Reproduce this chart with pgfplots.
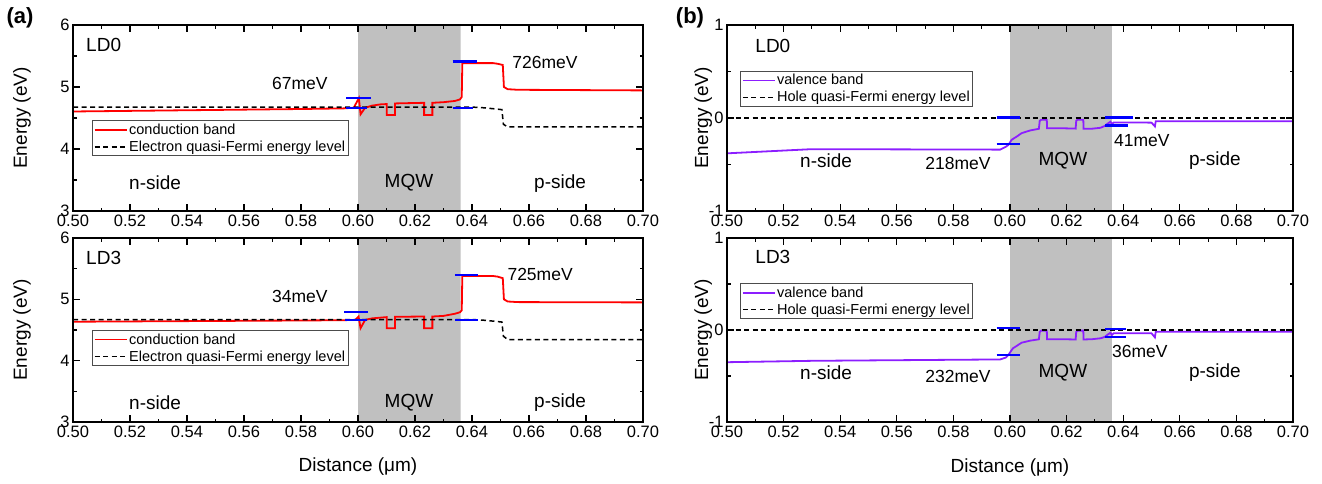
\documentclass[border=0pt]{standalone}
\usepackage{pgfplots}
\pgfplotsset{compat=1.18}
\usepackage{fontspec}
\setmainfont{Liberation Sans}
\definecolor{cband}{RGB}{255,0,0}
\definecolor{vband}{RGB}{140,30,255}
\definecolor{mqw}{RGB}{192,192,192}
\definecolor{mkblue}{RGB}{0,0,255}
\pgfplotsset{
 base/.style={
  scale only axis,
  axis on top,
  xmin=0.5, xmax=0.7,
  xtick={0.50,0.52,0.54,0.56,0.58,0.60,0.62,0.64,0.66,0.68,0.70},
  minor x tick num=1,
  minor y tick num=1,
  tick align=inside,
  major tick length=7pt, minor tick length=3.5pt,
  tick style={black, line width=1.1pt},
  axis line style={line width=1.6pt},
  ticklabel style={font=\fontsize{16.5}{18}\selectfont},
  /pgf/number format/assume math mode=true,
  x tick label style={/pgf/number format/.cd, fixed, fixed zerofill, precision=2, /tikz/.cd},
  label style={font=\fontsize{19}{22}\selectfont},
  ylabel={Energy (eV)},
  legend cell align=left,
  legend image code/.code={\draw[##1] (0pt,0pt) -- (32pt,0pt);},
 },
 lft/.style={base, width=570pt, ymin=3, ymax=6, ytick={3,4,5,6},
  ylabel style={at={(axis description cs:-0.0895,0.5)}, anchor=center},
  legend style={at={(axis description cs:0.0333,#1)}, anchor=south west, draw=black!70, line width=0.7pt, fill=white,
    font=\fontsize{14.5}{16}\selectfont, inner xsep=1.5pt, inner ysep=1.5pt, row sep=2pt, nodes={inner sep=1.5pt}}},
 rgt/.style={base, width=566pt, ymin=-1, ymax=1, ytick={-1,0,1},
  ylabel style={at={(axis description cs:-0.042,0.5)}, anchor=center},
  legend style={at={(axis description cs:0.023,#1)}, anchor=south west, draw=black!70, line width=0.7pt, fill=white,
    font=\fontsize{14.5}{16}\selectfont, inner xsep=1.5pt, inner ysep=1.5pt, row sep=2pt, nodes={inner sep=1.5pt}}},
 cb/.style={color=cband, line width=1.8pt},
 vb/.style={color=vband, line width=1.8pt},
 qf/.style={black, line width=1.5pt, dash pattern=on 5pt off 3.5pt},
 bm/.style={draw=mkblue, color=mkblue, line width=2.2pt, forget plot},
}
\newcommand{\bigf}{\fontsize{19}{22}\selectfont}
\newcommand{\midf}{\fontsize{17.5}{20}\selectfont}
\begin{document}
\begin{tikzpicture}
\path[use as bounding box] (0pt,0pt) rectangle (1322pt,483pt);
% ---------------- (a) top: LD0
\begin{axis}[lft=0.295, at={(73pt,272pt)}, anchor=south west, height=186pt]
\addplot[fill=mqw, draw=none, forget plot] coordinates {(0.600,3) (0.636,3) (0.636,6) (0.600,6)} \closedcycle;
\addplot[cb] coordinates {(0.500,4.605) (0.520,4.615) (0.540,4.625) (0.560,4.635) (0.580,4.645) (0.5950,4.655) (0.5985,4.665) (0.6003,4.82) (0.6009,4.56) (0.6025,4.665) (0.6050,4.70) (0.6080,4.72) (0.6101,4.725) (0.6101,4.55) (0.6130,4.55) (0.6130,4.735) (0.6180,4.74) (0.6232,4.745) (0.6232,4.55) (0.6261,4.55) (0.6261,4.745) (0.6300,4.755) (0.6340,4.775) (0.6358,4.80) (0.6364,4.84) (0.6366,5.385) (0.6474,5.385) (0.6490,5.375) (0.6508,5.355) (0.6512,5.00) (0.6525,4.965) (0.6560,4.955) (0.7000,4.945)};
\addlegendentry{conduction band}
\addplot[qf] coordinates {(0.500,4.675) (0.6404,4.675) (0.6440,4.665) (0.6474,4.650) (0.6505,4.635) (0.6510,4.40) (0.6525,4.355) (0.7000,4.355)};
\addlegendentry{Electron quasi-Fermi energy level}
\addplot[bm] coordinates {(0.5958,4.82) (0.6044,4.82)};
\addplot[bm] coordinates {(0.5958,4.665) (0.6030,4.665)};
\addplot[bm] coordinates {(0.6332,5.41) (0.6419,5.41)};
\addplot[bm] coordinates {(0.6332,4.665) (0.6404,4.665)};
\node[font=\bigf, anchor=west] at (axis cs:0.5034,5.68) {LD0};
\node[font=\midf] at (axis cs:0.5796,5.05) {67meV};
\node[font=\midf] at (axis cs:0.6656,5.40) {726meV};
\node[font=\bigf] at (axis cs:0.5288,3.45) {n-side};
\node[font=\bigf] at (axis cs:0.6179,3.45) {MQW};
\node[font=\bigf] at (axis cs:0.6709,3.45) {p-side};
\end{axis}
% ---------------- (a) bottom: LD3
\begin{axis}[lft=0.305, at={(73pt,61pt)}, anchor=south west, height=184pt,
  xlabel={Distance (μm)}, xlabel style={at={(axis description cs:0.5,-0.245)}, anchor=center}]
\addplot[fill=mqw, draw=none, forget plot] coordinates {(0.600,3) (0.636,3) (0.636,6) (0.600,6)} \closedcycle;
\addplot[cb] coordinates {(0.500,4.635) (0.540,4.645) (0.580,4.655) (0.5950,4.660) (0.5990,4.665) (0.6002,4.72) (0.6009,4.53) (0.6025,4.665) (0.6050,4.69) (0.6101,4.71) (0.6101,4.53) (0.6130,4.53) (0.6130,4.715) (0.6232,4.72) (0.6232,4.53) (0.6261,4.53) (0.6261,4.72) (0.6300,4.73) (0.6340,4.765) (0.6358,4.79) (0.6364,4.82) (0.6366,5.38) (0.6474,5.38) (0.6490,5.37) (0.6508,5.345) (0.6512,5.00) (0.6525,4.965) (0.6560,4.955) (0.7000,4.95)};
\addlegendentry{conduction band}
\addplot[qf] coordinates {(0.500,4.67) (0.6404,4.67) (0.6440,4.66) (0.6474,4.645) (0.6505,4.63) (0.6510,4.40) (0.6525,4.345) (0.7000,4.345)};
\addlegendentry{Electron quasi-Fermi energy level}
\addplot[bm] coordinates {(0.5951,4.80) (0.6036,4.80)};
\addplot[bm] coordinates {(0.5955,4.665) (0.6030,4.665)};
\addplot[bm] coordinates {(0.6340,5.40) (0.6421,5.40)};
\addplot[bm] coordinates {(0.6340,4.665) (0.6421,4.665)};
\node[font=\bigf, anchor=west] at (axis cs:0.5034,5.67) {LD3};
\node[font=\midf] at (axis cs:0.5796,5.05) {34meV};
\node[font=\midf] at (axis cs:0.6639,5.41) {725meV};
\node[font=\bigf] at (axis cs:0.5288,3.31) {n-side};
\node[font=\bigf] at (axis cs:0.6179,3.31) {MQW};
\node[font=\bigf] at (axis cs:0.6709,3.31) {p-side};
\end{axis}
% ---------------- (b) top: LD0
\begin{axis}[rgt=0.56, at={(727pt,272pt)}, anchor=south west, height=186pt]
\addplot[fill=mqw, draw=none, forget plot] coordinates {(0.600,-1) (0.636,-1) (0.636,1) (0.600,1)} \closedcycle;
\addplot[vb] coordinates {(0.500,-0.38) (0.530,-0.335) (0.5965,-0.34) (0.5985,-0.31) (0.5994,-0.29) (0.6006,-0.234) (0.6024,-0.199) (0.6041,-0.163) (0.6071,-0.134) (0.6102,-0.116) (0.6105,-0.03) (0.6110,-0.019) (0.6130,-0.019) (0.6131,-0.110) (0.6180,-0.110) (0.6232,-0.114) (0.6234,-0.03) (0.6238,-0.019) (0.6259,-0.019) (0.6260,-0.115) (0.6290,-0.115) (0.6320,-0.105) (0.6335,-0.085) (0.6345,-0.060) (0.6355,-0.040) (0.6360,-0.065) (0.6366,-0.048) (0.6450,-0.048) (0.6500,-0.050) (0.6512,-0.090) (0.6515,-0.034) (0.7000,-0.034)};
\addlegendentry{valence band}
\addplot[qf] coordinates {(0.500,0.0) (0.700,0.0)};
\addlegendentry{Hole quasi-Fermi energy level}
\addplot[bm] coordinates {(0.5953,0.005) (0.6035,0.005)};
\addplot[bm] coordinates {(0.5953,-0.277) (0.6035,-0.277)};
\addplot[bm] coordinates {(0.6336,0.005) (0.6436,0.005)};
\addplot[bm] coordinates {(0.6336,-0.081) (0.6418,-0.081)};
\node[font=\bigf, anchor=west] at (axis cs:0.5088,0.78) {LD0};
\node[font=\midf] at (axis cs:0.5816,-0.49) {218meV};
\node[font=\midf] at (axis cs:0.6466,-0.24) {41meV};
\node[font=\bigf] at (axis cs:0.535,-0.457) {n-side};
\node[font=\bigf] at (axis cs:0.6187,-0.457) {MQW};
\node[font=\bigf] at (axis cs:0.6724,-0.457) {p-side};
\end{axis}
% ---------------- (b) bottom: LD3
\begin{axis}[rgt=0.56, at={(727pt,61pt)}, anchor=south west, height=184pt,
  xlabel={Distance (μm)}, xlabel style={at={(axis description cs:0.5,-0.245)}, anchor=center}]
\addplot[fill=mqw, draw=none, forget plot] coordinates {(0.600,-1) (0.636,-1) (0.636,1) (0.600,1)} \closedcycle;
\addplot[vb] coordinates {(0.500,-0.35) (0.530,-0.335) (0.5965,-0.32) (0.5985,-0.30) (0.5994,-0.272) (0.6010,-0.20) (0.6041,-0.138) (0.6071,-0.116) (0.6102,-0.101) (0.6105,-0.02) (0.6110,-0.007) (0.6130,-0.007) (0.6131,-0.100) (0.6180,-0.100) (0.6232,-0.103) (0.6234,-0.02) (0.6238,-0.007) (0.6259,-0.007) (0.6260,-0.103) (0.6290,-0.100) (0.6320,-0.090) (0.6335,-0.075) (0.6345,-0.050) (0.6355,-0.030) (0.6360,-0.055) (0.6366,-0.036) (0.6500,-0.036) (0.6512,-0.080) (0.6515,-0.018) (0.7000,-0.018)};
\addlegendentry{valence band}
\addplot[qf] coordinates {(0.500,0.0) (0.700,0.0)};
\addlegendentry{Hole quasi-Fermi energy level}
\addplot[bm] coordinates {(0.5953,0.018) (0.6035,0.018)};
\addplot[bm] coordinates {(0.5953,-0.272) (0.6035,-0.272)};
\addplot[bm] coordinates {(0.6336,0.01) (0.6411,0.01)};
\addplot[bm] coordinates {(0.6336,-0.072) (0.6411,-0.072)};
\node[font=\bigf, anchor=west] at (axis cs:0.5088,0.79) {LD3};
\node[font=\midf] at (axis cs:0.5816,-0.50) {232meV};
\node[font=\midf] at (axis cs:0.6459,-0.23) {36meV};
\node[font=\bigf] at (axis cs:0.535,-0.467) {n-side};
\node[font=\bigf] at (axis cs:0.6187,-0.467) {MQW};
\node[font=\bigf] at (axis cs:0.6724,-0.467) {p-side};
\end{axis}
\node[font=\bfseries\fontsize{22}{24}\selectfont] at (20pt,465pt) {(a)};
\node[font=\bfseries\fontsize{22}{24}\selectfont] at (690pt,465pt) {(b)};
\end{tikzpicture}
\end{document}
